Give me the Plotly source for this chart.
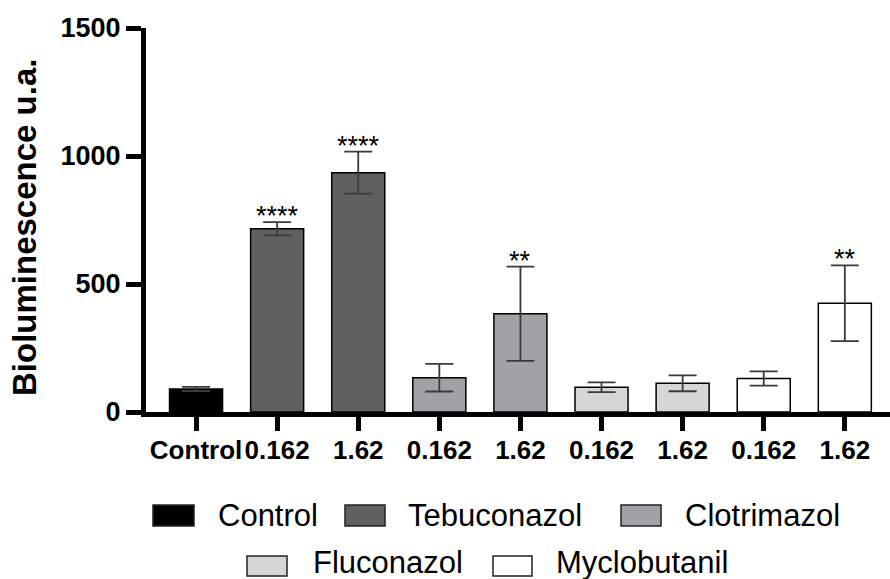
import plotly.graph_objects as go

# ---- data ----
tick_labels = ["Control", "0.162", "1.62", "0.162", "1.62", "0.162", "1.62", "0.162", "1.62"]
series_names = ["Control", "Tebuconazol", "Clotrimazol", "Fluconazol", "Myclobutanil"]
series_colors = ["#000000", "#606060", "#a2a1a5", "#d6d6d6", "#ffffff"]
series_positions = [[0], [1, 2], [3, 4], [5, 6], [7, 8]]
series_means = [[90], [716, 935], [134, 384], [97, 112], [131, 425]]
series_errors = [[8], [26, 82], [54, 184], [19, 31], [28, 148]]
series_stars = [[""], ["****", "****"], ["", "**"], ["", ""], ["", "**"]]
y_ticks = [0, 500, 1000, 1500]
y_title = "Bioluminescence u.a."

FONT = "Arial, Liberation Sans, sans-serif"
W, H = 890, 579
L, R, T, B = 146, 0, 28, 167
PW, PH = W - L - R, H - T - B

fig = go.Figure()
for name, col, xs, ys, es, st in zip(series_names, series_colors, series_positions,
                                      series_means, series_errors, series_stars):
    fig.add_trace(go.Bar(
        x=xs, y=ys, name=name, width=0.654, showlegend=False,
        marker=dict(color=col, line=dict(color="#000000", width=1.5)),
        error_y=dict(type="data", array=es, color="#3a3a3a", thickness=1.8, width=14),
    ))
    for x, y, e, s in zip(xs, ys, es, st):
        if s:
            fig.add_annotation(x=x, y=y + e, text=s, showarrow=False, xref="x", yref="y",
                               yanchor="bottom", yshift=-11,
                               font=dict(family=FONT, size=27, color="#000000"))

# ---- layout helpers (pixels -> paper) ----
def px(xp):
    return (xp - L) / PW

def py(yp):
    return (H - B - yp) / PH

# ---- manual legend ----
legend_layout = [  # (symbol left, symbol right, symbol top, symbol bottom, text left, text center y)
    (153, 194, 505, 526, 216, 515),
    (345, 385, 505, 526, 406, 515),
    (621, 661, 505, 526, 683, 515),
    (247, 287, 556, 576, 311, 562),
    (493, 532, 556, 576, 554, 562),
]
for name, col, (x0, x1, y0, y1, tx, ty) in zip(series_names, series_colors, legend_layout):
    fig.add_shape(type="rect", xref="paper", yref="paper",
                  x0=px(x0), x1=px(x1), y0=py(y1), y1=py(y0),
                  fillcolor=col, line=dict(color="#222222", width=1.5))
    fig.add_annotation(xref="paper", yref="paper", x=px(tx), y=py(ty), text=name,
                       showarrow=False, xanchor="left", yanchor="middle",
                       font=dict(family=FONT, size=31, color="#000000"))

# ---- y axis title ----
fig.add_annotation(xref="paper", yref="paper", x=px(25), y=py(228), text=y_title,
                   showarrow=False, textangle=-90, xanchor="center", yanchor="middle",
                   font=dict(family=FONT, size=33, color="#000000", weight="bold"))

fig.update_layout(
    width=W, height=H,
    margin=dict(l=L, r=R, t=T, b=B, pad=0),
    paper_bgcolor="#ffffff", plot_bgcolor="#ffffff",
    barmode="overlay",
    showlegend=False,
    font=dict(family=FONT, color="#000000"),
)
fig.update_xaxes(
    range=[-0.617, 8.557],
    tickmode="array", tickvals=list(range(len(tick_labels))), ticktext=tick_labels,
    tickangle=0, ticklabelstandoff=-3,
    showgrid=False, zeroline=False,
    showline=True, linewidth=5, linecolor="#000000",
    ticks="outside", ticklen=14, tickwidth=5, tickcolor="#000000",
    tickfont=dict(family=FONT, size=26, color="#000000", weight="bold"),
)
fig.update_yaxes(
    range=[0, 1500], tickmode="array", tickvals=y_ticks,
    showgrid=False, zeroline=False,
    showline=True, linewidth=5, linecolor="#000000",
    ticks="outside", ticklen=15, tickwidth=5, tickcolor="#000000",
    tickfont=dict(family=FONT, size=27, color="#000000", weight="bold"),
)

fig.write_html("out.html")
